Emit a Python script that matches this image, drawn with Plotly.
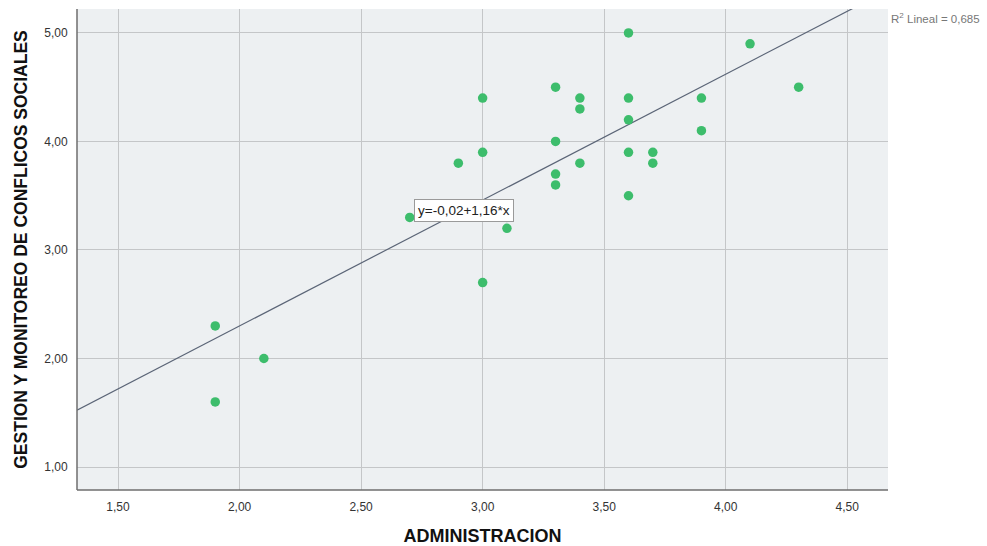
import numpy as np
import plotly.graph_objects as go

# Scatter data: ADMINISTRACION vs GESTION Y MONITOREO DE CONFLICOS SOCIALES
admin = [1.9, 1.9, 2.1, 2.7, 2.9, 3.0, 3.0, 3.0, 3.1, 3.1,
         3.3, 3.3, 3.3, 3.3, 3.4, 3.4, 3.4,
         3.6, 3.6, 3.6, 3.6, 3.6, 3.7, 3.7, 3.9, 3.9, 4.1, 4.3]
gestion = [2.3, 1.6, 2.0, 3.3, 3.8, 4.4, 3.9, 2.7, 3.3, 3.2,
           4.5, 4.0, 3.7, 3.6, 4.4, 4.3, 3.8,
           5.0, 4.4, 4.2, 3.9, 3.5, 3.9, 3.8, 4.4, 4.1, 4.9, 4.5]

# Fitted linear model
intercept = -0.02
slope = 1.16
r2_text = "R<sup>2</sup> Lineal = 0,685"
eq_text = "y=-0,02+1,16*x"

x_ticks = [1.5, 2.0, 2.5, 3.0, 3.5, 4.0, 4.5]
x_ticktext = ["1,50", "2,00", "2,50", "3,00", "3,50", "4,00", "4,50"]
y_ticks = [1.0, 2.0, 3.0, 4.0, 5.0]
y_ticktext = ["1,00", "2,00", "3,00", "4,00", "5,00"]

x_range = [1.3313, 4.6675]
y_range = [0.788, 5.221]

fit_x = np.linspace(x_range[0], x_range[1], 200)
fit_y = intercept + slope * fit_x

FONT = "Liberation Sans, Arial"

fig = go.Figure()
fig.add_trace(go.Scatter(
    x=fit_x, y=fit_y, mode="lines",
    line=dict(color="#5b6577", width=1.2),
    hoverinfo="skip", showlegend=False,
))
fig.add_trace(go.Scatter(
    x=admin, y=gestion, mode="markers",
    marker=dict(color="#3dbd6c", size=9.5, line=dict(width=0)),
    showlegend=False,
))

fig.add_annotation(
    x=2.717, y=3.36, xref="x", yref="y",
    text=eq_text, showarrow=False, xanchor="left", yanchor="middle",
    font=dict(family=FONT, size=13.5, color="#222"),
    bgcolor="white", bordercolor="#9a9a9a", borderwidth=1, borderpad=3,
)
fig.add_annotation(
    x=1.0015, y=0.981, xref="paper", yref="paper",
    text=r2_text, showarrow=False, xanchor="left", yanchor="middle",
    font=dict(family=FONT, size=11.5, color="#777"),
)

axis_common = dict(
    showgrid=True, gridcolor="#c4c6c8", gridwidth=1.3,
    zeroline=False, showline=False, mirror=False, automargin=False,
    ticks="outside", ticklen=6, tickcolor="rgba(0,0,0,0)",
    tickfont=dict(family=FONT, size=12, color="#333"),
)

fig.update_layout(
    width=987, height=546,
    margin=dict(l=77, r=99, t=9, b=56),
    paper_bgcolor="white", plot_bgcolor="#edf0f2",
    xaxis=dict(
        range=x_range, tickvals=x_ticks, ticktext=x_ticktext,
        title=dict(text="<b>ADMINISTRACION</b>", standoff=18,
                   font=dict(family=FONT, size=18, color="#111")),
        **axis_common,
    ),
    yaxis=dict(
        range=y_range, tickvals=y_ticks, ticktext=y_ticktext,
        title=dict(text="<b>GESTION Y MONITOREO DE CONFLICOS SOCIALES</b>", standoff=12,
                   font=dict(family=FONT, size=17.5, color="#111")),
        **axis_common,
    ),
)

# Axis lines on the left and bottom edges of the plot area
fig.add_shape(type="line", xref="paper", yref="paper", x0=0, x1=0, y0=0, y1=1,
              line=dict(color="#6e6e6e", width=1.5))
fig.add_shape(type="line", xref="paper", yref="paper", x0=0, x1=1, y0=0, y1=0,
              line=dict(color="#6e6e6e", width=1.5))

fig.write_html("out.html")
